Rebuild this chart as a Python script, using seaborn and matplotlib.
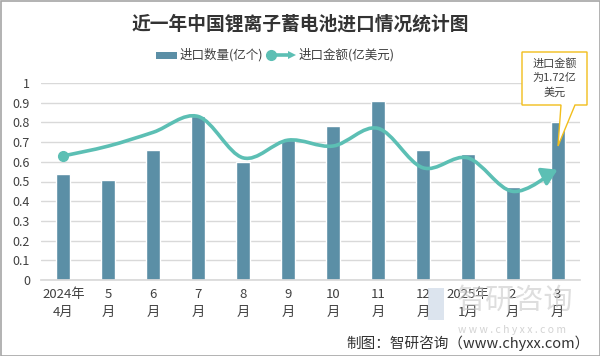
import numpy as np
import pandas as pd
import matplotlib
matplotlib.use("Agg")
import matplotlib.pyplot as plt
import seaborn as sns
from matplotlib.path import Path
from matplotlib.patches import Rectangle, Polygon, FancyArrowPatch

months = ["2024年\n4月", "5\n月", "6\n月", "7\n月", "8\n月", "9\n月", "10\n月", "11\n月", "12\n月", "2025年\n1月", "2\n月", "3\n月"]
qty = [0.54, 0.51, 0.66, 0.83, 0.60, 0.71, 0.78, 0.91, 0.66, 0.64, 0.47, 0.80]
amount = [0.63, 0.68, 0.75, 0.83, 0.62, 0.71, 0.68, 0.77, 0.57, 0.62, 0.45, 0.56]
yticks = [0, 0.1, 0.2, 0.3, 0.4, 0.5, 0.6, 0.7, 0.8, 0.9, 1]
ytick_labels = ["0", "0.1", "0.2", "0.3", "0.4", "0.5", "0.6", "0.7", "0.8", "0.9", "1"]

sns.set_theme(style="white")
plt.rcParams['font.family'] = ['Noto Sans CJK SC', 'DejaVu Sans']

BAR = "#5B8FA6"
LINE = "#5CBFB4"
TXT = "#404040"

fig = plt.figure(figsize=(6.0, 3.56), dpi=100)
ax = fig.add_axes([41/600, 76/356, 539/600, 197/356])

df = pd.DataFrame({"m": months, "q": qty})
sns.barplot(data=df, x="m", y="q", ax=ax, color=BAR, width=0.31, saturation=1)

# smoothed line (Catmull-Rom -> cubic Bezier)
xs = np.arange(len(amount), dtype=float)
ys = np.array(amount, dtype=float)
verts = [(xs[0], ys[0])]
codes = [Path.MOVETO]
n = len(xs)
for i in range(n - 1):
    p0 = (xs[max(i-1, 0)], ys[max(i-1, 0)])
    p1 = (xs[i], ys[i])
    p2 = (xs[i+1], ys[i+1])
    p3 = (xs[min(i+2, n-1)], ys[min(i+2, n-1)])
    c1 = (p1[0] + (p2[0]-p0[0])/6, p1[1] + (p2[1]-p0[1])/6)
    c2 = (p2[0] - (p3[0]-p1[0])/6, p2[1] - (p3[1]-p1[1])/6)
    verts += [c1, c2, p2]
    codes += [Path.CURVE4]*3
path = Path(verts, codes)
arrow = FancyArrowPatch(path=path, arrowstyle="-|>,head_length=0.45,head_width=0.28",
                        mutation_scale=20, color=LINE, lw=2.6, capstyle='round',
                        joinstyle='round', zorder=3)
ax.add_patch(arrow)
ax.plot([xs[0]], [ys[0]], 'o', color=LINE, ms=7, zorder=4)

ax.set_xlim(-0.5, len(months) - 0.5)
ax.set_ylim(0, 1)
ax.set_yticks(yticks)
ax.set_yticklabels(ytick_labels)
ax.yaxis.grid(True, color="#D9D9D9", lw=1)
ax.set_axisbelow(True)
for s in ax.spines.values():
    s.set_visible(False)
ax.spines['bottom'].set_visible(True)
ax.spines['bottom'].set_color("#D9D9D9")
ax.set_xlabel("")
ax.set_ylabel("")
ax.tick_params(axis='y', length=0, pad=8, labelsize=9, labelcolor=TXT)
ax.tick_params(axis='x', length=0, pad=6, labelsize=9.5, labelcolor=TXT)
for lab in ax.get_yticklabels():
    lab.set_horizontalalignment('right')
ax.set_xticks(range(len(months)))
ax.set_xticklabels(months, linespacing=1.5)

# title
fig.text(0.5, 1 - 24/356, "近一年中国锂离子蓄电池进口情况统计图", ha='center', va='center',
         fontsize=13.5, fontweight='bold', color="#333333")

# legend
fig.patches.append(Rectangle((156/600, 1 - 59/356), 21/600, 7/356, transform=fig.transFigure,
                             facecolor=BAR, edgecolor='none'))
fig.text(180/600, 1 - 55/356, "进口数量(亿个)", ha='left', va='center', fontsize=9, color=TXT)
fig.lines.append(plt.Line2D([271/600, 290/600], [1 - 55/356, 1 - 55/356], transform=fig.transFigure,
                            color=LINE, lw=2.6))
fig.lines.append(plt.Line2D([271/600], [1 - 55/356], transform=fig.transFigure, marker='o',
                            color=LINE, ms=7))
fig.patches.append(Polygon([(288/600, 1 - 51/356), (296/600, 1 - 55/356), (288/600, 1 - 59/356)],
                           closed=True, transform=fig.transFigure, facecolor=LINE, edgecolor='none'))
fig.text(299/600, 1 - 55/356, "进口金额(亿美元)", ha='left', va='center', fontsize=9, color=TXT)

# callout
box_l, box_r, box_t, box_b = 522, 587, 52, 105
tail = [(box_l, box_t), (box_r, box_t), (box_r, box_b), (575, box_b), (558, 146), (561, box_b),
        (box_l, box_b)]
fig.patches.append(Polygon([(x/600, 1 - y/356) for x, y in tail], closed=True, transform=fig.transFigure,
                           facecolor='white', edgecolor="#F2BE1C", lw=1, zorder=5))
fig.text((box_l + box_r)/2/600, 1 - 78/356, "进口金额\n为1.72亿\n美元", ha='center', va='center',
         fontsize=8, color=TXT, linespacing=1.45, zorder=6)

# watermark
fig.text(515/600, 1 - 301/356, "智研咨询", ha='center', va='center', fontsize=21, color="#C8C8C8",
         alpha=0.6, zorder=0)
fig.patches.append(Rectangle((428/600, 1 - 320/356), 16/600, 32/356, transform=fig.transFigure,
                             facecolor="#C5D2E3", edgecolor='none', alpha=0.6, zorder=0))
fig.text(512/600, 1 - 330/356, "w w w . c h y x x . c o m", ha='center', va='center', fontsize=7.5,
         color="#C8C8C8", alpha=0.8, zorder=0)

# footer
fig.text(590/600, 1 - 343/356, "制图：智研咨询（www.chyxx.com）", ha='right', va='center', fontsize=10.5,
         color="#333333")

# border
fig.patches.append(Rectangle((0.5/600, 0.5/356), 599/600, 355/356, transform=fig.transFigure,
                             facecolor='none', edgecolor="#A6A6A6", lw=1.2))

fig.savefig("out.png", dpi=100, facecolor='white')
